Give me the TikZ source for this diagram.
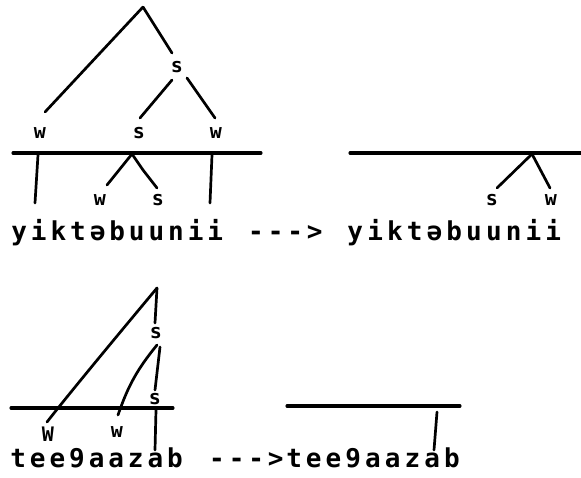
\documentclass[tikz,border=0pt]{standalone}
\usepackage{fontspec}
\newfontfamily\monofam{DejaVu Sans Mono}
\newcommand\spaced[2]{\def\mypitch{#1}\spcA#2\relax}
\def\spcA#1{\ifx#1\relax\else\makebox[\mypitch]{#1}\expandafter\spcA\fi}
\tikzset{
  txt/.style={inner sep=0pt, anchor=base west, font=\monofam\bfseries\fontsize{26}{26}\selectfont},
  lab/.style={inner sep=0pt, font=\monofam\bfseries\fontsize{20}{20}\selectfont},
  br/.style={line width=2.7pt, line cap=round},
  bar/.style={line width=3.1pt, line cap=round}
}
\begin{document}
\begin{tikzpicture}[x=1pt,y=-1pt]
\path[use as bounding box, fill=white] (0,0) rectangle (581,477);

% ---------- top left ----------
\coordinate (A) at (143,7);
\coordinate (Awl) at (45,112);
\coordinate (Asr) at (172,53);
\node[lab] (s1) at (177,67) {s};
\coordinate (s1l) at (172,80);
\coordinate (s1r) at (187,78);
\coordinate (s2t) at (140,118);
\coordinate (w2t) at (215,118);
\node[lab] (w1) at (40,133) {w};
\node[lab] (s2) at (139,133) {s};
\node[lab] (w2) at (216,133) {w};
\coordinate (L1a) at (13,153);
\coordinate (L1b) at (261,153);
\draw[br] (A) -- (Awl);
\draw[br] (A) -- (Asr);
\draw[br] (s1l) -- (s2t);
\draw[br] (s1r) -- (w2t);
\draw[bar] (L1a) -- (L1b);
\coordinate (v1a) at (38,155);
\coordinate (v1b) at (35,203);
\coordinate (f1) at (132,154);
\coordinate (f1w) at (107,185);
\coordinate (f1k) at (143,170);
\coordinate (f1s) at (157,188);
\coordinate (v2a) at (212,155);
\coordinate (v2b) at (210,203);
\draw[br] (v1a) -- (v1b);
\draw[br] (f1) -- (f1w);
\draw[br] (f1) -- (f1k) -- (f1s);
\draw[br] (v2a) -- (v2b);
\node[lab] (w3) at (100,200) {w};
\node[lab] (s3) at (158,200) {s};
\node[txt] (t1) at (9.2,240) {\spaced{19.6pt}{yiktəbuunii}};
\node[txt] (ar1) at (246,240) {\spaced{19.6pt}{--->}};

% ---------- top right ----------
\coordinate (L2a) at (350,153);
\coordinate (L2b) at (581,153);
\draw[bar] (L2a) -- (L2b);
\coordinate (f2) at (532,154);
\coordinate (f2s) at (497,188);
\coordinate (f2w) at (550,188);
\draw[br] (f2) -- (f2s);
\draw[br] (f2) -- (f2w);
\node[lab] (s4) at (492,200) {s};
\node[lab] (w4) at (551,200) {w};
\node[txt] (t2) at (345.2,240) {\spaced{19.8pt}{yiktəbuunii}};

% ---------- bottom left ----------
\coordinate (B) at (157,288);
\coordinate (BW) at (47,422);
\coordinate (Bs) at (155,323);
\draw[br] (B) .. controls (132,318) and (76,385) .. (BW);
\draw[br] (B) -- (Bs);
\node[lab] (s5) at (156,333) {s};
\coordinate (s5l) at (157,345);
\coordinate (s5r) at (160,347);
\coordinate (s5w) at (118,415);
\coordinate (s5s) at (155,390);
\draw[br] (s5l) to[bend right=10] (s5w);
\draw[br] (s5r) -- (s5s);
\node[lab] (s6) at (155,399) {s};
\coordinate (L3a) at (11,408);
\coordinate (L3b) at (173,408);
\draw[bar] (L3a) -- (L3b);
\coordinate (v3a) at (156,410);
\coordinate (v3b) at (155,450);
\draw[br] (v3a) -- (v3b);
\node[lab] (W5) at (48,434) {W};
\node[lab] (w6) at (117,432) {w};
\node[txt] (t3) at (8.2,467) {\spaced{19.6pt}{tee9aazab}};
\node[txt] (ar2) at (207,467) {\spaced{19.6pt}{--->}};

% ---------- bottom right ----------
\coordinate (L4a) at (287,406);
\coordinate (L4b) at (460,406);
\draw[bar] (L4a) -- (L4b);
\coordinate (v4a) at (437,412);
\coordinate (v4b) at (434,450);
\draw[br] (v4a) -- (v4b);
\node[txt] (t4) at (284,467) {\spaced{19.75pt}{tee9aazab}};
\end{tikzpicture}
\end{document}
